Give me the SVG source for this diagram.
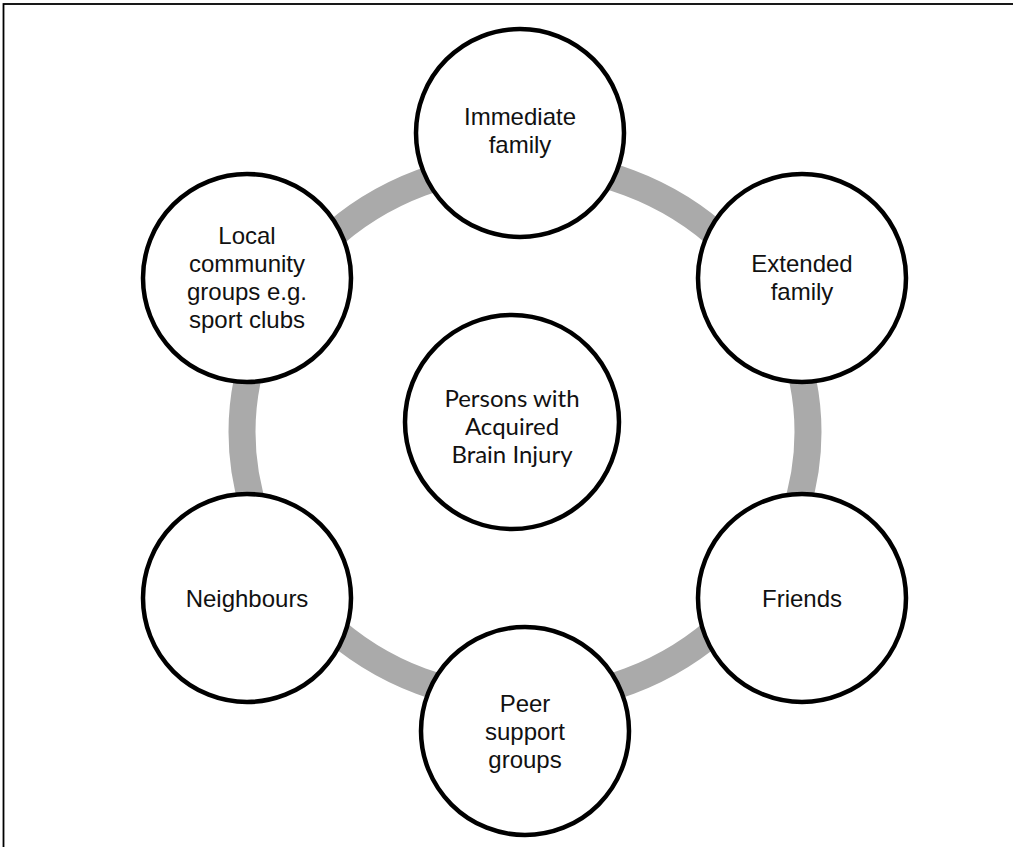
<svg xmlns="http://www.w3.org/2000/svg" width="1013" height="847" viewBox="0 0 1013 847">
<style>
.node{fill:#fff;stroke:#000;stroke-width:4.5}
.lbl{font-family:"Liberation Sans",Arial,sans-serif;font-size:24px;fill:#111;text-anchor:middle}
.clbl{font-family:Lato,"Open Sans",sans-serif;font-size:24px;fill:#111;text-anchor:middle}
</style>
<rect x="0" y="0" width="1013" height="847" fill="#fff"/>
<rect x="3.5" y="4" width="1030" height="900" fill="none" stroke="#000" stroke-width="1.8"/>
<g id="connectors">
<ellipse cx="525" cy="432" rx="283" ry="268" fill="none" stroke="#aaa" stroke-width="27"/>
</g>
<g id="immediate"><circle class="node" cx="520" cy="133" r="104"/><text class="lbl" x="520" y="125">Immediate</text><text class="lbl" x="520" y="153">family</text></g>
<g id="extended"><circle class="node" cx="802" cy="278" r="104"/><text class="lbl" x="802" y="272">Extended</text><text class="lbl" x="802" y="300">family</text></g>
<g id="friends"><circle class="node" cx="802" cy="598" r="104"/><text class="lbl" x="802" y="607">Friends</text></g>
<g id="peer"><circle class="node" cx="525" cy="731" r="104"/><text class="lbl" x="525" y="712">Peer</text><text class="lbl" x="525" y="740">support</text><text class="lbl" x="525" y="768">groups</text></g>
<g id="neighbours"><circle class="node" cx="247" cy="598" r="104"/><text class="lbl" x="247" y="607">Neighbours</text></g>
<g id="local"><circle class="node" cx="247" cy="278" r="104"/><text class="lbl" x="247" y="244">Local</text><text class="lbl" x="247" y="272">community</text><text class="lbl" x="247" y="300">groups e.g.</text><text class="lbl" x="247" y="328">sport clubs</text></g>
<g id="center"><circle class="node" cx="512" cy="422" r="107"/><text class="clbl" x="512" y="407">Persons with</text><text class="clbl" x="512" y="435">Acquired</text><text class="clbl" x="512" y="463">Brain Injury</text></g>
</svg>
